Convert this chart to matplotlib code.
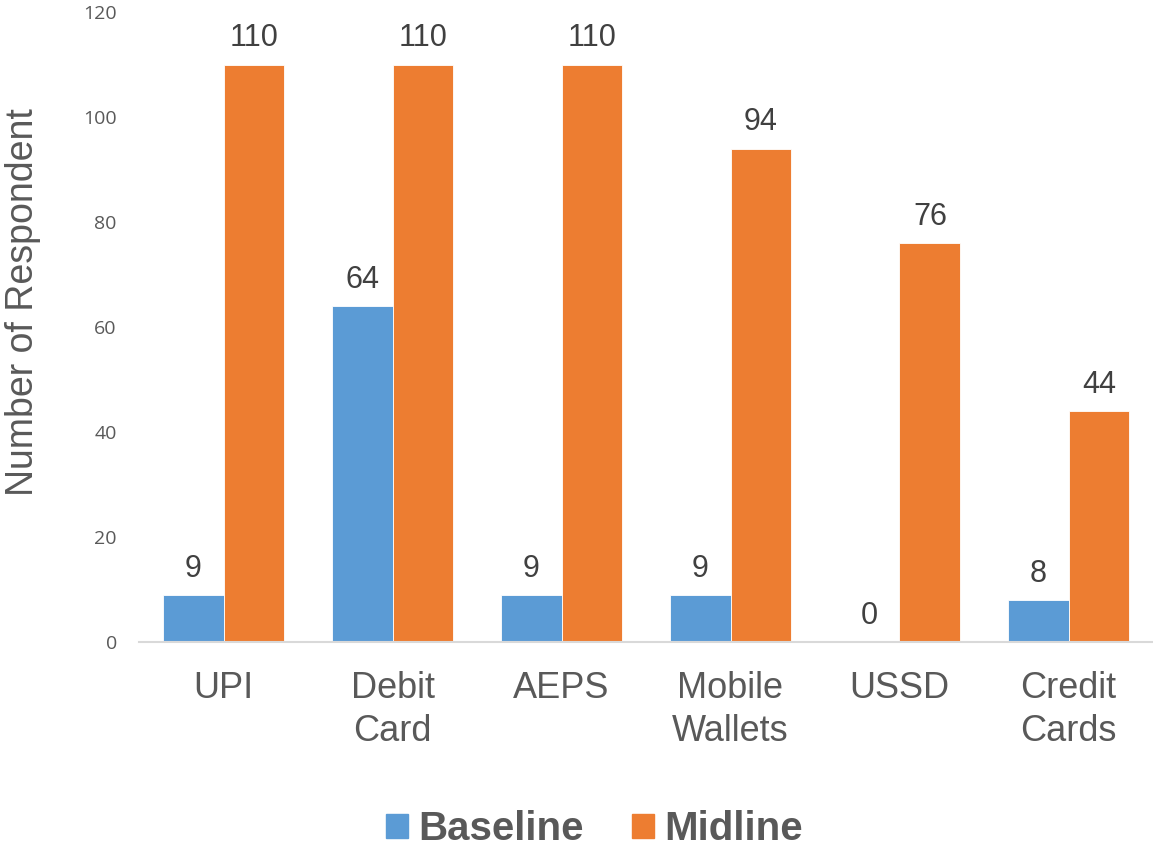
import matplotlib
matplotlib.use("Agg")
import matplotlib.pyplot as plt
import numpy as np
from matplotlib.patches import Patch

categories = ["UPI", "Debit\nCard", "AEPS", "Mobile\nWallets", "USSD", "Credit\nCards"]
baseline = [9, 64, 9, 9, 0, 8]
midline = [110, 110, 110, 94, 76, 44]
series_names = ["Baseline", "Midline"]
yticks = [0, 20, 40, 60, 80, 100, 120]

BLUE = "#5B9BD5"
ORANGE = "#ED7D31"
TEXT = "#595959"
LABEL = "#404040"

fig = plt.figure(figsize=(11.53, 8.51), dpi=100)
ax = fig.add_axes([139 / 1153, 1 - 642 / 851, 1 - 139 / 1153, (642 - 12) / 851])

x = np.arange(len(categories))
w = 0.36
b1 = ax.bar(x - w / 2, baseline, w, color=BLUE, edgecolor="white", linewidth=0.6)
b2 = ax.bar(x + w / 2, midline, w, color=ORANGE, edgecolor="white", linewidth=0.6)

for bars, vals in ((b1, baseline), (b2, midline)):
    for rect, v in zip(bars, vals):
        ax.annotate(str(v), (rect.get_x() + rect.get_width() / 2, v),
                    xytext=(0, 8), textcoords="offset points",
                    ha="center", va="bottom", fontsize=22,
                    family="Liberation Sans", color=LABEL)

ax.set_xlim(-0.5, len(categories) - 0.5)
ax.set_ylim(0, 120)
ax.set_yticks(yticks)
ax.set_yticklabels([str(t) for t in yticks], fontsize=14, family="Open Sans", color=TEXT)
ax.set_xticks(x)
ax.set_xticklabels(categories, fontsize=26, family="Liberation Sans", color=TEXT,
                   linespacing=1.3)
ax.tick_params(axis="x", length=0, pad=21)
ax.tick_params(axis="y", length=0, pad=16)

for s in ("top", "right", "left"):
    ax.spines[s].set_visible(False)
ax.spines["bottom"].set_color("#D9D9D9")
ax.spines["bottom"].set_linewidth(1.5)

ax.set_ylabel("Number of Respondent", fontsize=27, family="Liberation Sans", color=TEXT)
ax.yaxis.set_label_coords(-(139 - 41) / 1014, (642 - 302) / 630)

handles = [Patch(color=BLUE), Patch(color=ORANGE)]
leg = fig.legend(handles, series_names, loc="center", bbox_to_anchor=(594 / 1153, 1 - 829 / 851),
                 ncol=2, frameon=False, handlelength=0.55, handleheight=0.55,
                 handletextpad=0.25, columnspacing=1.2,
                 prop={"family": "Liberation Sans", "weight": "bold", "size": 29})
for t in leg.get_texts():
    t.set_color(TEXT)

fig.savefig("out.png", dpi=100)
